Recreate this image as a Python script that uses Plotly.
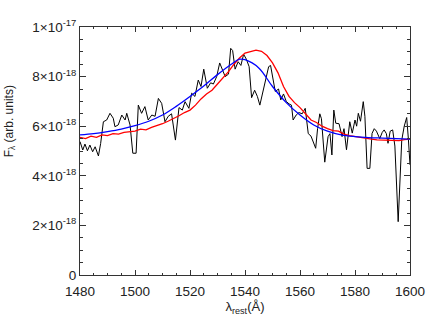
import numpy as np
import plotly.graph_objects as go

# observed spectrum (black), flux in units of 1e-18
lam_obs = [1480.0, 1481.0, 1481.8, 1482.7, 1483.6, 1484.6, 1485.5, 1486.7, 1487.5, 1488.5,
           1489.7, 1490.9, 1492.1, 1492.7, 1493.9, 1495.2, 1496.4, 1497.0, 1498.2, 1499.2,
           1500.4, 1501.2, 1502.4, 1503.6, 1504.8, 1506.1, 1507.3, 1508.5, 1509.7, 1510.9,
           1512.1, 1513.3, 1514.7, 1516.0, 1517.2, 1518.2, 1519.6, 1520.6, 1521.8, 1523.0,
           1524.0, 1525.0, 1526.3, 1527.5, 1528.5, 1529.7, 1530.8, 1532.0, 1532.8, 1534.0,
           1534.8, 1535.5, 1536.4, 1537.5, 1538.5, 1539.5, 1540.5, 1541.5, 1542.4, 1543.5,
           1544.5, 1545.4, 1546.5, 1547.6, 1548.6, 1549.3, 1550.1, 1551.0, 1552.2, 1553.0,
           1554.0, 1555.0, 1556.0, 1556.9, 1557.5, 1558.6, 1559.6, 1560.8, 1561.9, 1563.0,
           1564.0, 1565.0, 1565.7, 1566.4, 1567.2, 1567.8, 1569.0, 1570.2, 1570.9, 1571.6,
           1572.3, 1573.0, 1574.2, 1575.3, 1576.0, 1576.9, 1578.1, 1579.0, 1580.0, 1580.6,
           1581.2, 1582.0, 1583.0, 1583.6, 1584.4, 1585.4, 1586.2, 1587.0, 1587.8, 1589.0,
           1589.9, 1590.6, 1591.4, 1592.0, 1592.8, 1593.7, 1594.5, 1595.7, 1597.0, 1597.9,
           1598.8, 1599.4, 1600.0]
flux_obs = [5.38, 5.04, 5.28, 5.01, 5.24, 4.97, 5.17, 4.80, 5.30, 6.18,
            6.25, 6.52, 6.32, 5.98, 6.05, 6.45, 6.25, 6.52, 6.05, 4.91,
            4.91, 6.85, 6.52, 6.79, 6.25, 6.45, 6.40, 7.12, 6.92, 6.18,
            6.40, 6.50, 5.44, 6.75, 6.65, 6.99, 6.72, 7.33, 7.20, 7.86,
            7.60, 8.30, 7.53, 7.75, 7.70, 8.00, 8.55, 8.20, 8.00, 8.10,
            9.14, 9.05, 8.30, 8.60, 8.45, 8.90, 8.70, 8.40, 7.15, 7.45,
            7.20, 6.85, 7.40, 7.90, 8.40, 8.45, 7.90, 7.40, 7.50, 7.06,
            7.30, 7.00, 6.90, 6.85, 6.25, 6.45, 6.55, 6.50, 6.72, 5.70,
            5.60, 5.30, 5.11, 5.91, 6.50, 6.30, 4.55, 5.58, 5.70, 4.84,
            6.65, 6.12, 6.10, 5.58, 5.90, 5.05, 6.18, 5.72, 6.25, 6.00,
            6.52, 6.20, 6.99, 6.40, 4.30, 4.30, 5.71, 5.90, 5.80, 5.50,
            5.75, 5.85, 5.70, 5.31, 5.80, 5.85, 5.20, 2.15, 5.44, 6.00,
            6.35, 5.50, 4.44]

# red model
lam_red = [1480, 1482, 1484, 1486, 1488, 1490, 1492, 1494, 1496, 1498, 1500, 1502, 1504,
           1506, 1508, 1510, 1512, 1514, 1516, 1518, 1520, 1522, 1524, 1526, 1528, 1530,
           1532, 1534, 1536, 1538, 1540, 1542, 1544, 1546, 1548, 1550, 1552, 1554, 1556,
           1558, 1560, 1562, 1564, 1566, 1568, 1570, 1572, 1574, 1576, 1578, 1580, 1582,
           1584, 1586, 1588, 1590, 1592, 1594, 1596, 1598, 1600]
flux_red = [5.55, 5.50, 5.60, 5.55, 5.65, 5.62, 5.70, 5.68, 5.75, 5.78, 5.80, 5.88, 5.85,
            5.95, 6.02, 6.10, 6.20, 6.30, 6.42, 6.55, 6.65, 6.85, 7.10, 7.30, 7.45, 7.70,
            7.95, 8.20, 8.50, 8.75, 8.95, 9.00, 9.07, 9.02, 8.85, 8.55, 8.15, 7.60, 7.20,
            6.95, 6.75, 6.50, 6.25, 6.15, 6.00, 5.90, 5.82, 5.80, 5.68, 5.62, 5.58, 5.55,
            5.50, 5.48, 5.45, 5.44, 5.42, 5.44, 5.42, 5.46, 5.48]

# blue model
lam_blue = [1480, 1485, 1490, 1495, 1500, 1505, 1510, 1515, 1520, 1525, 1530, 1535, 1538,
            1540, 1545, 1550, 1555, 1560, 1565, 1570, 1575, 1580, 1585, 1590, 1595, 1600]
flux_blue = [5.65, 5.70, 5.78, 5.88, 6.02, 6.20, 6.45, 6.80, 7.20, 7.62, 8.08, 8.50, 8.70,
             8.68, 8.35, 7.60, 6.95, 6.45, 6.05, 5.80, 5.65, 5.58, 5.54, 5.52, 5.50, 5.48]

x_ticks = [1480, 1500, 1520, 1540, 1560, 1580, 1600]
y_ticks = [0, 2e-18, 4e-18, 6e-18, 8e-18, 1e-17]
y_ticktext = ['0', '2×10<sup>-18</sup>', '4×10<sup>-18</sup>', '6×10<sup>-18</sup>',
              '8×10<sup>-18</sup>', '1×10<sup>-17</sup>']

scale = 1e-18
FONT = 'Liberation Sans, Arial, sans-serif'

fig = go.Figure()
fig.add_trace(go.Scatter(x=lam_obs, y=np.array(flux_obs) * scale, mode='lines',
                         line=dict(color='black', width=1)))
fig.add_trace(go.Scatter(x=lam_red, y=np.array(flux_red) * scale, mode='lines',
                         line=dict(color='#ff0000', width=1.3)))
fig.add_trace(go.Scatter(x=lam_blue, y=np.array(flux_blue) * scale, mode='lines',
                         line=dict(color='#0000ff', width=1.3, shape='spline')))

axis_common = dict(showgrid=False, zeroline=False, showline=True, linecolor='#333333',
                   linewidth=1, mirror='ticks', ticks='inside', tickcolor='#333333',
                   automargin=False,
                   tickfont=dict(family=FONT, size=13.5, color='#222222'))

fig.update_layout(
    width=436, height=327,
    margin=dict(l=80, r=26, t=27, b=52),
    paper_bgcolor='white', plot_bgcolor='white',
    showlegend=False,
    font=dict(family=FONT, size=12, color='#222222'),
    xaxis=dict(range=[1480, 1600], tickvals=x_ticks, ticklen=5, tickwidth=1,
               ticklabelstandoff=4,
               minor=dict(dtick=5, ticks='inside', ticklen=2, tickcolor='#333333'),
               title=dict(text='λ<sub>rest</sub>(Å)', standoff=1,
                          font=dict(size=13)),
               **axis_common),
    yaxis=dict(range=[0, 1e-17], tickvals=y_ticks, ticktext=y_ticktext, ticklen=6,
               tickwidth=1,
               minor=dict(dtick=5e-19, ticks='inside', ticklen=3, tickcolor='#333333'),
               **axis_common),
)

# y title placed by hand: it sits above the middle of the axis in the original
fig.add_annotation(text='F<sub>λ</sub> (arb. units)', textangle=-90,
                   xref='paper', yref='paper', x=-0.212, y=0.62,
                   xanchor='center', yanchor='middle', showarrow=False,
                   font=dict(family=FONT, size=12, color='#222222'))

# drop the page's default body margin so the figure fills the window
fig.write_html("out.html", config=dict(displayModeBar=False),
               post_script="document.body.style.margin='0';")
